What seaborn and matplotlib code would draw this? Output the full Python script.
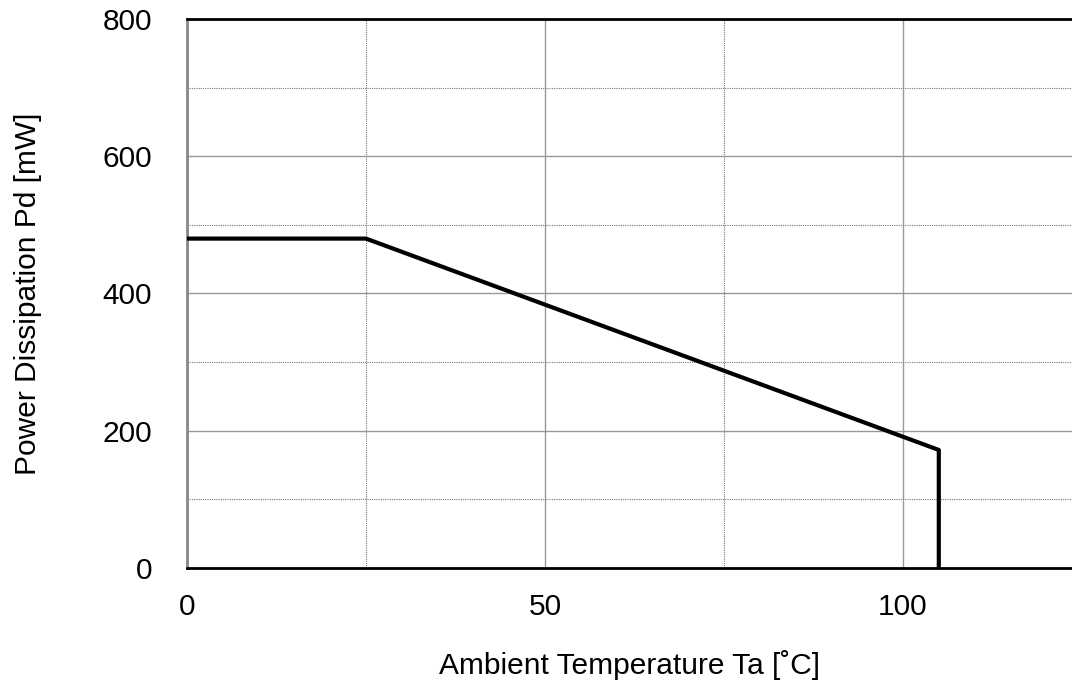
import matplotlib
matplotlib.use("Agg")
import matplotlib.pyplot as plt
import seaborn as sns
import pandas as pd
from matplotlib.ticker import MultipleLocator

temperature = [0, 25, 105, 105]
power = [480, 480, 172, 0]
x_ticks = [0, 50, 100]
y_ticks = [0, 200, 400, 600, 800]

sns.set_theme(style="white")
plt.rcParams['font.family'] = ['Liberation Sans', 'DejaVu Sans']

df = pd.DataFrame({"Ta": temperature, "Pd": power})

fig = plt.figure(figsize=(10.72, 6.84), dpi=100)
ax = fig.add_axes([187/1072, (684-568)/684, (1072-187)/1072, (568-19)/684])

sns.lineplot(data=df, x="Ta", y="Pd", sort=False, estimator=None, color="black",
             linewidth=3, ax=ax, zorder=5)

ax.set_xlim(0, (1072-187)/7.16)
ax.set_ylim(0, 800)
ax.set_xticks(x_ticks)
ax.set_yticks(y_ticks)
ax.xaxis.set_minor_locator(MultipleLocator(25))
ax.yaxis.set_minor_locator(MultipleLocator(100))
ax.grid(which="major", color="#999999", linewidth=1, linestyle="-")
ax.grid(which="minor", color="#777777", linewidth=0.8, linestyle=(0, (1, 1)))
ax.tick_params(which="both", length=0, labelsize=21.5, colors="black")
ax.tick_params(axis="x", pad=18)
ax.tick_params(axis="y", pad=25)

for s in ["top", "bottom"]:
    ax.spines[s].set_color("black")
    ax.spines[s].set_linewidth(2)
ax.spines["left"].set_color("#888888")
ax.spines["left"].set_linewidth(2)
ax.spines["right"].set_visible(False)

ax.set_xlabel("Ambient Temperature Ta [˚C]", fontsize=21.5, color="black", labelpad=21)
ax.set_ylabel("Power Dissipation Pd [mW]", fontsize=21.5, color="black", labelpad=44)

fig.savefig("out.png", dpi=100)
